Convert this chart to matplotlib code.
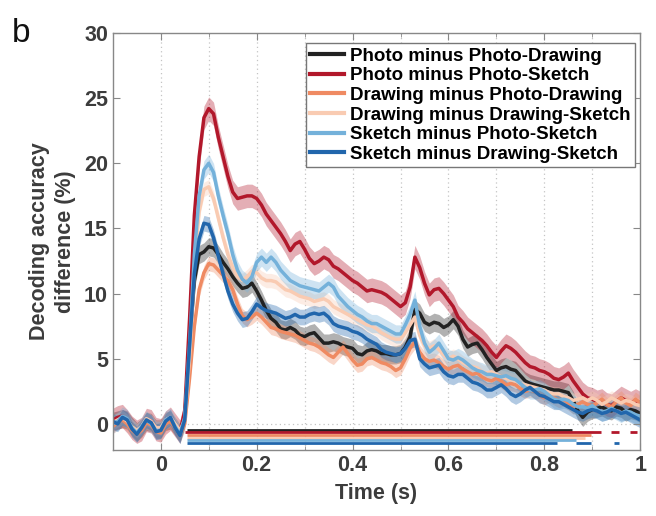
import numpy as np
import matplotlib
matplotlib.use("Agg")
import matplotlib.pyplot as plt
from matplotlib.ticker import MultipleLocator

plt.rcParams['font.family'] = ['Liberation Sans', 'DejaVu Sans']

# time axis (s), 10 ms steps from -0.1 to 1.0
time = np.round(np.arange(-0.10, 1.0001, 0.01), 2)

labels = [
    "Photo minus Photo-Drawing",
    "Photo minus Photo-Sketch",
    "Drawing minus Photo-Drawing",
    "Drawing minus Drawing-Sketch",
    "Sketch minus Photo-Sketch",
    "Sketch minus Drawing-Sketch",
]
colors = ["#222222", "#b2182b", "#ef8a62", "#f9cbb2", "#74b1da", "#2166ac"]

photo_pd = [0.2, 0.3, 0.4, 0.3, -0.2, -0.6, -0.3, 0.2, 0.1, -0.4, -0.4, 0.2, 0.3, -0.2, -0.7,
    0.5, 6.0, 11.0, 13.0, 13.2, 13.6, 13.5, 13.0, 12.4, 11.9, 11.3, 10.8, 10.4, 10.5, 10.8,
    10.2, 9.5, 8.7, 8.1, 7.8, 7.3, 7.2, 7.4, 7.2, 6.8, 6.7, 6.9, 7.0, 6.6, 6.2, 6.2, 6.3,
    6.2, 6.0, 5.9, 5.8, 5.4, 5.3, 5.6, 5.7, 5.6, 5.4, 5.4, 5.3, 5.3, 5.4, 5.9, 6.7, 8.8,
    8.5, 7.8, 7.6, 7.8, 7.7, 7.4, 7.6, 8.0, 7.5, 6.5, 5.9, 6.1, 6.2, 5.7, 5.1, 4.6, 4.1,
    4.3, 4.4, 4.2, 4.1, 3.7, 3.3, 3.1, 3.0, 2.9, 2.8, 2.7, 2.6, 2.6, 2.5, 2.4, 1.8, 1.0,
    0.5, 0.9, 1.1, 1.2, 1.3, 1.1, 1.0, 1.3, 1.2, 0.9, 1.1, 1.0, 0.8]

photo_ps = [0.3, 0.5, 0.6, 0.2, -0.3, -0.6, -0.4, 0.3, 0.2, -0.4, -0.5, 0.1, 0.4, -0.1, -0.6,
    1.0, 8.0, 16.0, 20.5, 23.5, 24.2, 23.8, 22.0, 20.5, 19.0, 17.8, 17.3, 17.4, 17.5, 17.5,
    17.3, 16.8, 16.1, 15.6, 15.1, 14.6, 14.0, 13.3, 13.8, 14.0, 13.4, 12.7, 12.3, 12.5,
    12.8, 12.6, 12.1, 11.9, 11.6, 11.3, 11.0, 10.8, 10.5, 10.2, 10.3, 10.2, 10.1, 9.9, 9.6,
    9.3, 9.0, 9.3, 10.5, 12.8, 12.0, 10.8, 9.9, 10.3, 10.4, 10.0, 9.5, 9.0, 8.2, 7.8, 7.3,
    7.0, 6.7, 6.4, 6.0, 5.5, 5.1, 5.6, 6.0, 5.8, 5.5, 5.1, 4.7, 4.4, 4.3, 4.1, 4.0, 3.8,
    3.5, 3.4, 3.6, 3.9, 3.3, 2.8, 2.3, 2.0, 1.9, 1.7, 1.8, 1.5, 1.4, 1.7, 2.0, 1.8, 1.6,
    1.8, 1.6]

drawing_pd = [-0.2, 0.1, 0.3, 0.0, -0.5, -0.8, -0.5, 0.1, -0.1, -0.6, -0.7, 0.0, 0.2, -0.3, -0.9,
    0.0, 3.5, 7.5, 10.3, 11.6, 12.3, 12.2, 11.8, 11.4, 11.0, 10.3, 9.2, 8.3, 8.0, 8.2, 8.5,
    8.2, 7.8, 7.4, 7.3, 7.1, 7.0, 6.9, 6.8, 6.6, 6.4, 6.2, 6.1, 5.9, 5.6, 5.3, 5.1, 5.5,
    5.9, 5.4, 4.9, 4.5, 4.6, 5.0, 5.1, 4.9, 4.7, 4.6, 4.4, 4.1, 4.3, 5.0, 5.8, 6.3, 5.5,
    5.0, 4.8, 4.9, 4.7, 4.4, 4.2, 4.4, 4.5, 4.2, 4.0, 3.8, 3.9, 3.6, 3.4, 3.3, 3.5, 3.3,
    3.0, 3.1, 3.0, 2.7, 2.5, 2.6, 2.5, 2.2, 2.0, 2.2, 2.0, 1.8, 1.9, 1.6, 1.3, 1.5, 1.7,
    1.5, 1.4, 1.6, 1.9, 1.5, 1.3, 1.7, 2.0, 1.6, 1.4, 1.9, 1.6]

drawing_ds = [0.1, 0.3, 0.5, 0.2, -0.2, -0.5, -0.2, 0.4, 0.2, -0.3, -0.3, 0.3, 0.5, 0.0, -0.5,
    0.3, 5.0, 12.0, 16.3, 18.0, 18.2, 17.3, 15.8, 14.3, 13.0, 12.0, 11.3, 11.0, 11.3, 11.7,
    11.6, 11.2, 11.0, 11.0, 10.9, 10.6, 10.3, 10.2, 10.0, 9.8, 9.7, 9.6, 9.4, 9.5, 9.6,
    9.4, 9.0, 8.8, 8.6, 8.4, 8.2, 8.0, 7.8, 7.6, 7.5, 7.3, 7.0, 6.8, 6.6, 6.5, 6.5, 7.0,
    7.6, 8.2, 6.8, 6.0, 5.8, 6.0, 5.7, 5.3, 5.0, 5.2, 5.0, 4.7, 4.5, 4.4, 4.3, 4.0, 3.9,
    4.0, 3.8, 3.6, 3.5, 3.4, 3.3, 3.1, 3.0, 2.9, 2.8, 2.7, 2.6, 2.4, 2.3, 2.3, 2.1, 2.0,
    1.8, 1.9, 2.0, 1.8, 2.0, 1.8, 1.5, 1.7, 2.0, 1.8, 1.6, 1.8, 1.7, 1.5, 1.4]

sketch_ps = [0.0, 0.2, 0.6, 0.4, -0.3, -0.7, -0.2, 0.3, 0.0, -0.5, -0.5, 0.3, 0.5, -0.2, -0.8,
    0.5, 6.0, 13.0, 17.5, 19.5, 20.0, 19.3, 17.5, 16.0, 14.6, 13.0, 11.8, 11.1, 10.8, 11.3,
    12.4, 12.8, 12.4, 12.8, 12.4, 11.8, 11.4, 11.0, 10.8, 10.6, 10.5, 10.4, 10.3, 10.2,
    10.5, 10.8, 10.5, 9.8, 9.4, 9.0, 8.7, 8.4, 8.2, 7.9, 7.7, 7.7, 7.5, 7.3, 7.1, 6.9, 6.9,
    7.6, 8.4, 9.5, 7.5, 6.2, 5.5, 5.8, 6.2, 5.6, 5.0, 4.9, 5.1, 4.9, 4.6, 4.3, 4.1, 4.0,
    3.8, 3.8, 3.7, 3.6, 3.7, 3.5, 3.4, 3.1, 2.8, 2.6, 2.6, 2.7, 2.5, 2.2, 1.9, 1.8, 1.9,
    1.8, 1.5, 1.3, 1.3, 1.2, 1.4, 1.1, 0.9, 1.0, 1.2, 1.0, 0.8, 1.0, 0.9, 0.7, 0.6]

sketch_ds = [0.2, 0.0, 0.5, 0.3, -0.4, -0.8, -0.3, 0.3, 0.1, -0.6, -0.5, 0.2, 0.5, -0.3, -0.9,
    0.3, 6.0, 11.5, 14.2, 15.4, 15.3, 14.3, 12.9, 11.5, 10.2, 9.2, 8.5, 8.0, 8.1, 8.6, 9.2,
    8.9, 8.7, 8.6, 8.5, 8.3, 8.1, 8.2, 8.4, 8.2, 8.2, 8.4, 8.5, 8.4, 8.5, 8.2, 7.7, 7.5,
    7.4, 7.3, 7.1, 7.0, 6.8, 6.5, 6.3, 6.1, 5.7, 5.5, 5.4, 5.3, 5.4, 5.8, 6.4, 6.5, 5.0,
    4.6, 4.3, 4.4, 4.5, 4.0, 3.7, 3.6, 3.8, 3.8, 3.5, 3.2, 3.1, 2.9, 2.6, 2.6, 2.8, 3.0,
    2.7, 2.3, 2.1, 2.3, 2.6, 2.8, 2.5, 2.2, 2.1, 1.9, 1.7, 1.7, 1.5, 1.3, 1.1, 0.9, 0.8,
    1.0, 1.1, 1.0, 0.8, 0.9, 1.1, 1.0, 0.8, 0.9, 0.7, 0.5, 0.3]

series = [photo_pd, photo_ps, drawing_pd, drawing_ds, sketch_ps, sketch_ds]
sem = [0.7, 0.9, 0.55, 0.55, 0.7, 0.6]

# significant time windows (s) for each series
sig_windows = [
    [(0.055, 0.857)],
    [(0.050, 0.919), (0.938, 0.956), (0.978, 0.993)],
    [(0.055, 0.898)],
    [(0.055, 0.885)],
    [(0.055, 0.866)],
    [(0.055, 0.827), (0.867, 0.898), (0.946, 0.956)],
]
sig_levels = [-0.45, -0.65, -0.85, -1.05, -1.25, -1.45]

fig = plt.figure(figsize=(6.56, 5.16), dpi=100)
ax = fig.add_axes([0.172, 0.128, 0.804, 0.808])

gridc = "#c4c4c4"
for xv in np.arange(0.0, 1.0, 0.1):
    ax.axvline(xv, color=gridc, lw=0.9, ls=(0, (1, 2.5)), zorder=0)
ax.axhline(0, color=gridc, lw=0.9, ls=(0, (1, 2.5)), zorder=0)

for vals, c, s, lab in zip(series, colors, sem, labels):
    v = np.array(vals)
    ax.fill_between(time, v - s, v + s, color=c, alpha=0.35, lw=0, zorder=1)
    ax.plot(time, v, color=c, lw=2.5, label=lab, zorder=2, solid_joinstyle='round')

for wins, lvl, c in zip(sig_windows, sig_levels, colors):
    for a, b in wins:
        ax.plot([a, b], [lvl, lvl], color=c, lw=2.0, solid_capstyle='butt', zorder=3)

ax.set_xlim(-0.1, 1.0)
ax.set_ylim(-2, 30)
ax.xaxis.set_minor_locator(MultipleLocator(0.1))
ax.yaxis.set_major_locator(MultipleLocator(5))
ax.set_xticks([0, 0.2, 0.4, 0.6, 0.8, 1.0])
ax.set_xticklabels(["0", "0.2", "0.4", "0.6", "0.8", "1"])

tc = "#3c3c3c"
ax.tick_params(axis='both', which='both', direction='in', top=True, right=True,
               color="#888888", labelcolor=tc, labelsize=15.5)
ax.tick_params(which='major', length=5)
ax.tick_params(which='minor', length=3)
for lab in ax.get_xticklabels() + ax.get_yticklabels():
    lab.set_fontweight('bold')
for sp in ax.spines.values():
    sp.set_color("#888888")
    sp.set_linewidth(1.0)

ax.set_xlabel("Time (s)", fontsize=15.5, fontweight='bold', color=tc, labelpad=5)
ax.set_ylabel("Decoding accuracy\ndifference (%)", fontsize=15.5, fontweight='bold',
              color=tc, labelpad=6, linespacing=1.3)

leg = ax.legend(loc='upper right', bbox_to_anchor=(0.997, 0.985),
                prop={'weight': 'bold', 'size': 13.5}, frameon=True, fancybox=False,
                handlelength=1.8, handletextpad=0.3, labelspacing=0.13,
                borderpad=0.25, borderaxespad=0.2)
leg.get_frame().set_edgecolor("#777777")
leg.get_frame().set_linewidth(1.0)
leg.get_frame().set_alpha(1)
for line in leg.get_lines():
    line.set_linewidth(3.0)

fig.text(0.018, 0.965, "b", fontsize=24, color="#111111", va='top', ha='left')

fig.savefig("out.png", dpi=100)
